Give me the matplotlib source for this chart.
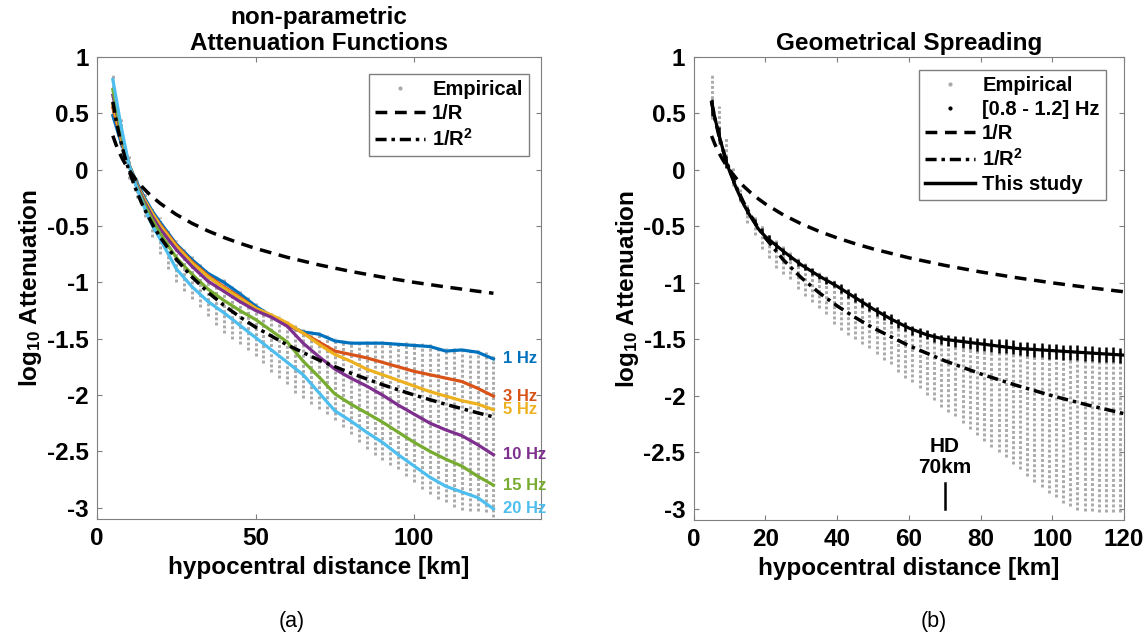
import numpy as np
import matplotlib
matplotlib.use("Agg")
import matplotlib.pyplot as plt
from matplotlib.lines import Line2D

plt.rcParams['font.family'] = ['Liberation Sans', 'DejaVu Sans']
plt.rcParams['font.weight'] = 'bold'
plt.rcParams['mathtext.default'] = 'regular'
plt.rcParams['axes.unicode_minus'] = False

# ---------------- data ----------------
# left panel: non-parametric attenuation per frequency
dist = [5, 7.5, 10, 12.5, 15, 17.5, 20, 25, 30, 35, 40, 45, 50, 55, 60, 65,
        70, 75, 80, 85, 90, 95, 100, 105, 110, 115, 120, 125]
freq_labels = ['1 Hz', '3 Hz', '5 Hz', '10 Hz', '15 Hz', '20 Hz']
att_1hz = [0.48, 0.25, 0.05, -0.11, -0.25, -0.37, -0.47, -0.66, -0.80, -0.92, -1.00, -1.10,
           -1.21, -1.30, -1.38, -1.44, -1.46, -1.52, -1.54, -1.54, -1.54, -1.55, -1.56, -1.57,
           -1.61, -1.60, -1.62, -1.68]
att_3hz = [0.55, 0.28, 0.05, -0.13, -0.27, -0.39, -0.49, -0.67, -0.82, -0.94, -1.04, -1.13,
           -1.23, -1.30, -1.37, -1.45, -1.53, -1.61, -1.64, -1.67, -1.71, -1.75, -1.79, -1.82,
           -1.85, -1.88, -1.94, -2.01]
att_5hz = [0.58, 0.30, 0.05, -0.13, -0.27, -0.39, -0.50, -0.68, -0.83, -0.95, -1.05, -1.14,
           -1.23, -1.29, -1.36, -1.45, -1.55, -1.64, -1.70, -1.77, -1.82, -1.87, -1.92, -1.97,
           -2.01, -2.05, -2.08, -2.13]
att_10hz = [0.66, 0.33, 0.05, -0.14, -0.29, -0.42, -0.53, -0.71, -0.86, -0.99, -1.08, -1.17,
            -1.25, -1.31, -1.39, -1.54, -1.66, -1.77, -1.85, -1.92, -2.00, -2.09, -2.17, -2.25,
            -2.31, -2.36, -2.44, -2.53]
att_15hz = [0.71, 0.35, 0.05, -0.15, -0.31, -0.45, -0.57, -0.78, -0.93, -1.06, -1.16, -1.25,
            -1.33, -1.43, -1.53, -1.70, -1.84, -1.99, -2.08, -2.16, -2.24, -2.33, -2.42, -2.50,
            -2.57, -2.63, -2.72, -2.80]
att_20hz = [0.80, 0.40, 0.05, -0.16, -0.34, -0.50, -0.62, -0.88, -1.04, -1.17, -1.27, -1.38,
            -1.49, -1.60, -1.71, -1.82, -1.98, -2.14, -2.23, -2.33, -2.42, -2.53, -2.63, -2.73,
            -2.81, -2.86, -2.91, -3.01]
freq_colors = ['#0072BD', '#D95319', '#EDB120', '#7E2F8E', '#77AC30', '#4DBEEE']

# empirical scatter (left): columns every 2.5 km, top and bottom of each column
emp_dist_l = np.arange(5, 125.1, 2.5)
emp_top_l = [0.84, 0.45, 0.12, -0.07, -0.21, -0.33, -0.42, -0.53, -0.62, -0.70, -0.77, -0.84,
             -0.90, -0.94, -0.97, -1.03, -1.08, -1.13, -1.18, -1.22, -1.26, -1.30, -1.34, -1.38,
             -1.41, -1.43, -1.44, -1.47, -1.49, -1.51, -1.52, -1.52, -1.52, -1.52, -1.52, -1.53,
             -1.53, -1.53, -1.54, -1.54, -1.55, -1.57, -1.58, -1.58, -1.57, -1.58, -1.60, -1.62,
             -1.64]
emp_bot_l = [0.45, 0.20, -0.08, -0.25, -0.42, -0.60, -0.75, -0.88, -1.00, -1.08, -1.15, -1.22,
             -1.30, -1.38, -1.45, -1.50, -1.55, -1.60, -1.65, -1.72, -1.80, -1.85, -1.90, -1.98,
             -2.03, -2.08, -2.12, -2.17, -2.22, -2.28, -2.35, -2.42, -2.48, -2.53, -2.58, -2.62,
             -2.66, -2.72, -2.77, -2.83, -2.88, -2.92, -2.95, -2.99, -3.02, -3.03, -3.03, -3.04,
             -3.08]

# reference geometrical spreading curves
ref_dist = [5, 6, 7, 8, 9, 10, 12, 14, 16, 18, 20, 25, 30, 35, 40, 45, 50, 60, 70, 80, 90,
            100, 110, 120, 125]
ref_1_R = [0.301, 0.222, 0.155, 0.097, 0.046, 0.0, -0.079, -0.146, -0.204, -0.255, -0.301,
           -0.398, -0.477, -0.544, -0.602, -0.653, -0.699, -0.778, -0.845, -0.903, -0.954,
           -1.0, -1.041, -1.079, -1.097]
ref_1_R2 = [0.602, 0.444, 0.310, 0.194, 0.092, 0.0, -0.158, -0.292, -0.408, -0.511, -0.602,
            -0.796, -0.954, -1.088, -1.204, -1.306, -1.398, -1.556, -1.690, -1.806, -1.908,
            -2.0, -2.083, -2.158, -2.194]

# right panel: empirical columns every 2 km
emp_dist_r = np.arange(5, 120, 2)
emp_top_r = [0.85, 0.57, 0.29, 0.02, -0.17, -0.30, -0.40, -0.48, -0.56, -0.62, -0.67, -0.73,
             -0.78, -0.82, -0.86, -0.90, -0.94, -0.97, -1.01, -1.05, -1.09, -1.13, -1.17, -1.21,
             -1.25, -1.28, -1.32, -1.35, -1.38, -1.40, -1.42, -1.44, -1.46, -1.47, -1.48, -1.48,
             -1.49, -1.50, -1.50, -1.51, -1.52, -1.52, -1.53, -1.54, -1.54, -1.55, -1.55, -1.56,
             -1.56, -1.57, -1.57, -1.57, -1.58, -1.58, -1.59, -1.59, -1.59, -1.60]
emp_bot_r = [0.45, 0.23, 0.03, -0.14, -0.28, -0.47, -0.58, -0.70, -0.78, -0.87, -0.92, -0.97,
             -1.05, -1.12, -1.17, -1.22, -1.28, -1.36, -1.42, -1.46, -1.50, -1.54, -1.58, -1.63,
             -1.68, -1.72, -1.79, -1.84, -1.88, -1.93, -1.99, -2.04, -2.10, -2.14, -2.18, -2.24,
             -2.29, -2.35, -2.40, -2.45, -2.50, -2.54, -2.60, -2.65, -2.71, -2.76, -2.81, -2.86,
             -2.90, -2.95, -2.98, -3.01, -3.02, -3.02, -3.03, -3.03, -3.03, -3.03]
# [0.8 - 1.2] Hz band
band_hi = [0.63, 0.38, 0.12, -0.05, -0.20, -0.33, -0.43, -0.51, -0.58, -0.64, -0.69, -0.74,
           -0.79, -0.83, -0.87, -0.91, -0.95, -0.98, -1.01, -1.05, -1.09, -1.13, -1.17, -1.21,
           -1.25, -1.28, -1.32, -1.35, -1.38, -1.40, -1.42, -1.44, -1.46, -1.46, -1.47, -1.47,
           -1.48, -1.49, -1.49, -1.50, -1.50, -1.50, -1.51, -1.52, -1.52, -1.53, -1.53, -1.54,
           -1.54, -1.55, -1.55, -1.55, -1.56, -1.56, -1.57, -1.57, -1.57, -1.58]
band_lo = [0.48, 0.26, 0.02, -0.12, -0.27, -0.39, -0.49, -0.57, -0.64, -0.70, -0.75, -0.80,
           -0.85, -0.89, -0.93, -0.97, -1.01, -1.04, -1.09, -1.13, -1.17, -1.21, -1.25, -1.29,
           -1.33, -1.36, -1.40, -1.43, -1.46, -1.48, -1.50, -1.52, -1.54, -1.56, -1.57, -1.58,
           -1.59, -1.60, -1.60, -1.61, -1.62, -1.62, -1.63, -1.64, -1.65, -1.66, -1.66, -1.67,
           -1.67, -1.68, -1.68, -1.68, -1.69, -1.69, -1.70, -1.70, -1.70, -1.71]
# this study (geometrical spreading model)
study_dist = [5, 6, 7, 8, 9, 10, 12, 14, 16, 18, 20, 25, 30, 35, 40, 45, 50, 55, 60, 65, 70,
              75, 80, 85, 90, 95, 100, 105, 110, 115, 120]
study_att = [0.60, 0.45, 0.32, 0.20, 0.08, -0.01, -0.17, -0.31, -0.42, -0.52, -0.59, -0.72,
             -0.84, -0.94, -1.03, -1.13, -1.23, -1.32, -1.40, -1.46, -1.50, -1.52, -1.54, -1.56,
             -1.58, -1.59, -1.60, -1.61, -1.62, -1.63, -1.64]
hd_km = 70

# ---------------- figure ----------------
FS = 17.5
gray = '#aaaaaa'
dash = (0, (3.4, 2.2))
dashdot = (0, (3.2, 1.4, 1.0, 1.4))

fig = plt.figure(figsize=(11.45, 6.4), dpi=100)
ax1 = fig.add_axes([0.0847, 0.1891, 0.3878, 0.7219])
ax2 = fig.add_axes([0.6058, 0.1875, 0.3759, 0.7234])

for ax in (ax1, ax2):
    for s in ax.spines.values():
        s.set_color('#7f7f7f')
        s.set_linewidth(0.8)
    ax.tick_params(direction='in', length=3.5, width=0.8, color='#7f7f7f',
                   top=True, right=True, labelsize=FS, pad=6)
    ax.set_ylim(-3.1, 1)
    ax.set_yticks(np.arange(-3, 1.01, 0.5))
    ax.set_yticklabels(['-3', '-2.5', '-2', '-1.5', '-1', '-0.5', '0', '0.5', '1'])
    ax.set_xlabel('hypocentral distance [km]', fontsize=FS, fontweight='bold', labelpad=4)
    ax.set_ylabel('log$_{10}$ Attenuation', fontsize=FS, fontweight='bold', labelpad=2)

# left panel
ax1.vlines(emp_dist_l, emp_bot_l, emp_top_l, colors=gray, linewidth=2.1,
           linestyles=[(0, (1, 0.75))], zorder=1)
curves = [att_1hz, att_3hz, att_5hz, att_10hz, att_15hz, att_20hz]
for vals, c, lab in zip(curves, freq_colors, freq_labels):
    ax1.plot(dist, vals, color=c, linewidth=2.3, zorder=2)
    ax1.text(dist[-1] + 3, vals[-1], lab, color=c, fontsize=12, fontweight='bold',
             ha='left', va='center', clip_on=False)
ax1.plot(ref_dist, ref_1_R, color='black', linewidth=2.5, linestyle=dash, zorder=3)
ax1.plot(ref_dist, ref_1_R2, color='black', linewidth=2.5, linestyle=dashdot, zorder=3)
ax1.set_xlim(0, 140)
ax1.set_xticks([0, 50, 100])
ax1.set_title('non-parametric\nAttenuation Functions', fontsize=FS, fontweight='bold',
              linespacing=1.15, pad=5)

h_emp = Line2D([], [], color=gray, marker='.', markersize=4, linestyle='none')
h_band = Line2D([], [], color='black', marker='.', markersize=4, linestyle='none')
h_r = Line2D([], [], color='black', linewidth=2.5, linestyle=dash)
h_r2 = Line2D([], [], color='black', linewidth=2.5, linestyle=dashdot)
h_st = Line2D([], [], color='black', linewidth=2.5)

leg_kw = dict(loc='upper right', fancybox=False, framealpha=1, edgecolor='#7f7f7f',
              prop={'size': 14.5, 'weight': 'bold'}, borderaxespad=0,
              labelspacing=0.25, borderpad=0.3, handletextpad=0.35, handlelength=2.5)
leg1 = ax1.legend([h_emp, h_r, h_r2], ['Empirical', '1/R', '1/R$^2$'],
                  bbox_to_anchor=(0.972, 0.963), **leg_kw)
leg1.get_frame().set_linewidth(1.0)

# right panel
ax2.vlines(emp_dist_r, emp_bot_r, emp_top_r, colors=gray, linewidth=2.1,
           linestyles=[(0, (1, 0.75))], zorder=1)
ax2.vlines(emp_dist_r, band_lo, band_hi, colors='black', linewidth=1.8, zorder=3)
ax2.plot(ref_dist, ref_1_R, color='black', linewidth=2.5, linestyle=dash, zorder=3)
ax2.plot(ref_dist, ref_1_R2, color='black', linewidth=2.5, linestyle=dashdot, zorder=3)
ax2.plot(study_dist, study_att, color='black', linewidth=2.3, zorder=4)
ax2.plot([hd_km, hd_km], [-3.0, -2.77], color='black', linewidth=1.8)
ax2.text(hd_km, -2.72, 'HD\n70km', fontsize=15, fontweight='bold', ha='center', va='bottom',
         linespacing=1.15)
ax2.set_xlim(0, 120)
ax2.set_xticks(np.arange(0, 121, 20))
ax2.set_title('Geometrical Spreading', fontsize=FS, fontweight='bold', pad=5)

leg2 = ax2.legend([h_emp, h_band, h_r, h_r2, h_st],
                  ['Empirical', '[0.8 - 1.2] Hz', '1/R', '1/R$^2$', 'This study'],
                  bbox_to_anchor=(0.9575, 0.972), **leg_kw)
leg2.get_frame().set_linewidth(1.0)

fig.text(291.7 / 1145, 1 - 621.7 / 640, '(a)', fontsize=15.5, fontweight='normal',
         ha='center', va='center')
fig.text(933.6 / 1145, 1 - 621.7 / 640, '(b)', fontsize=15.5, fontweight='normal',
         ha='center', va='center')

fig.savefig('out.png', dpi=100)
